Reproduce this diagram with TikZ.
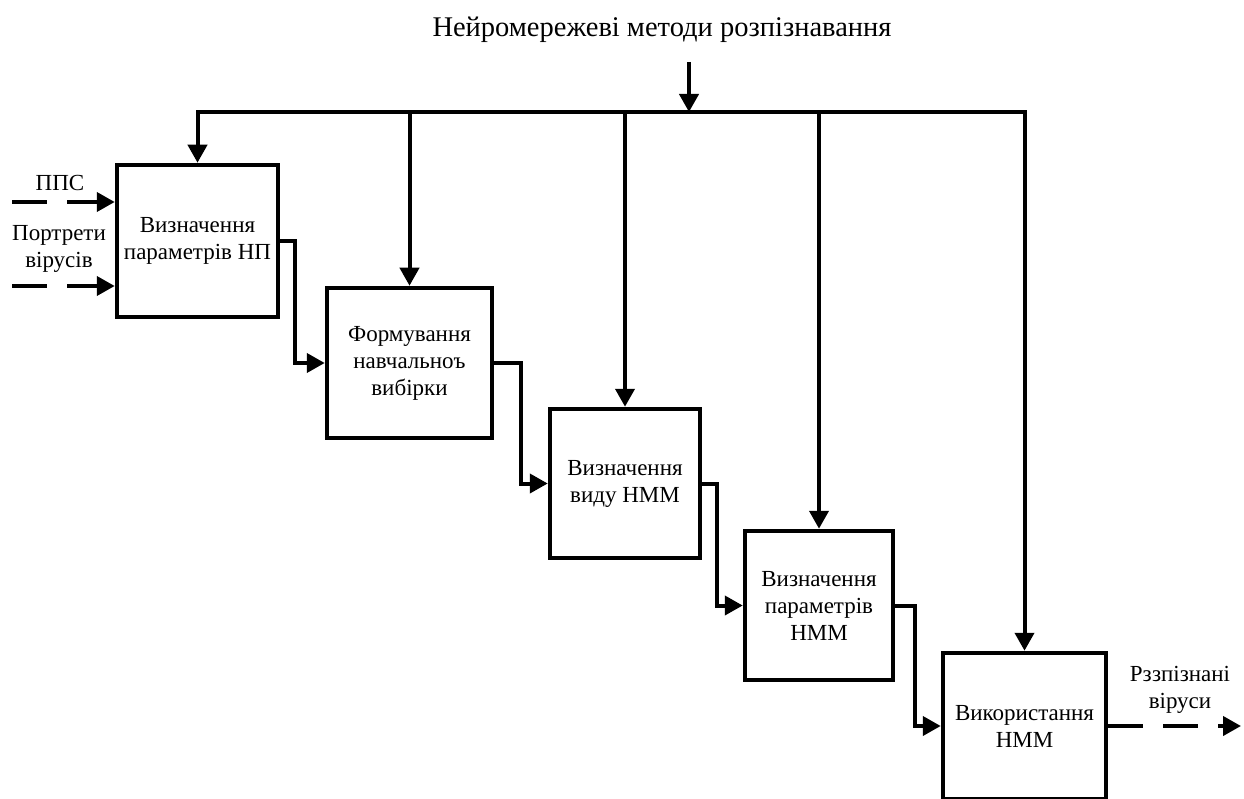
\documentclass[tikz,border=0pt]{standalone}
\usepackage{fontspec}
\setmainfont{Liberation Serif}
\usetikzlibrary{arrows.meta}
\begin{document}
\begin{tikzpicture}[x=1pt,y=-1pt,
  every node/.style={font=\fontsize{23}{27}\selectfont, align=center},
  stage/.style={draw, line width=4.5pt, inner sep=0pt, minimum width=#1},
  stage/.default=160,
  wire/.style={line width=4pt, line join=miter},
  arr/.style={wire, -{Triangle[length=18pt,width=19pt]}},
  dasharr/.style={arr, dash pattern=on 35pt off 20pt},
  lbl/.style={inner sep=0pt}]
\useasboundingbox (0,0) rectangle (1244,799);

% title and top input
\node[lbl, font=\fontsize{28.5}{32}\selectfont] (title) at (662,30) {Нейромережеві методи розпізнавання};
\coordinate (src) at (689,62);
\coordinate (busY) at (0,112);

% stages
\node[stage=161, minimum height=152] (b1) at (197.5,241) {Визначення\\параметрів НП};
\node[stage=165, minimum height=150] (b2) at (409.5,363) {Формування\\навчальноъ\\вибірки};
\node[stage=150, minimum height=149] (b3) at (625,483.5) {Визначення\\виду НММ};
\node[stage=148, minimum height=149] (b4) at (819,605.5) {Визначення\\параметрів\\НММ};
\node[stage=163, minimum height=146] (b5) at (1024.5,726) {Використання\\НММ};

% control bus
\draw[arr] (src) -- (src |- busY);
\draw[arr] (b5.north |- busY) -| (b1.north);
\draw[arr] (b1.north |- busY) -| (b5.north);
\draw[arr] (b2.north |- busY) -- (b2.north);
\draw[arr] (b3.north |- busY) -- (b3.north);
\draw[arr] (b4.north |- busY) -- (b4.north);

% stage-to-stage flow
\draw[arr] (b1.east) -- ++(15,0) |- (b2.west);
\draw[arr] (b2.east) -- ++(27,0) |- (b3.west);
\draw[arr] (b3.east) -- ++(15,0) |- (b4.west);
\draw[arr] (b4.east) -- ++(20,0) |- (b5.west);

% inputs
\coordinate (in1) at (12,202);
\coordinate (in2) at (12,286);
\draw[dasharr] (in1) -- (in1 -| b1.west);
\draw[dasharr] (in2) -- (in2 -| b1.west);
\node[lbl] (lppc) at (60,183) {ППС};
\node[lbl] (lport) at (59,249) {Портрети\\вірусів};

% output
\coordinate (out) at (1241,0);
\draw[dasharr] (b5.east) -- (b5.east -| out);
\node[lbl] (lout) at (1180,690) {Рззпізнані\\віруси};
\end{tikzpicture}
\end{document}
